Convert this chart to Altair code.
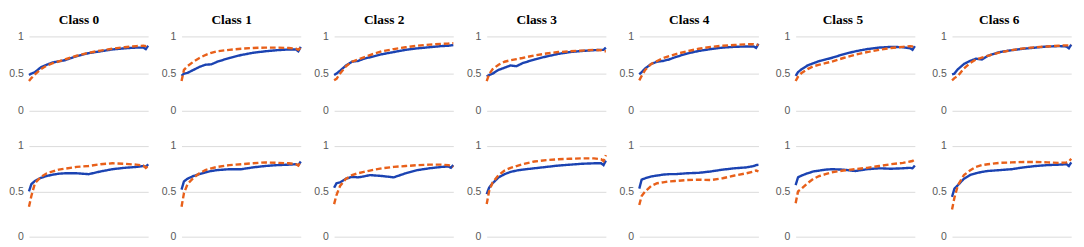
import altair as alt
import pandas as pd

X = [0, 2, 5, 10, 15, 20, 25, 30, 40, 50, 60, 70, 80, 90, 96, 98, 100]
CLASSES = ["Class 0", "Class 1", "Class 2", "Class 3", "Class 4", "Class 5", "Class 6"]

TOP_BLUE = [
    [.48, .50, .52, .585, .62, .65, .665, .68, .735, .775, .80, .825, .84, .85, .85, .83, .875],
    [.47, .50, .51, .55, .59, .62, .625, .66, .71, .75, .78, .80, .815, .825, .825, .80, .86],
    [.48, .50, .54, .61, .66, .67, .70, .72, .76, .79, .82, .84, .855, .87, .875, .88, .885],
    [.46, .48, .50, .55, .58, .61, .60, .64, .69, .73, .765, .79, .805, .815, .82, .82, .85],
    [.49, .52, .57, .63, .66, .67, .69, .72, .77, .805, .83, .85, .86, .865, .865, .845, .90],
    [.47, .52, .56, .61, .64, .67, .69, .71, .76, .80, .83, .85, .86, .855, .84, .82, .87],
    [.49, .50, .56, .63, .67, .70, .69, .74, .79, .815, .835, .85, .865, .87, .865, .84, .89],
]
TOP_ORANGE = [
    [.40, .44, .49, .56, .61, .64, .665, .69, .74, .78, .81, .835, .855, .87, .875, .87, .89],
    [.40, .55, .60, .66, .71, .75, .78, .80, .82, .835, .845, .85, .85, .845, .835, .82, .85],
    [.41, .43, .50, .60, .66, .69, .72, .75, .80, .83, .855, .875, .89, .90, .905, .91, .91],
    [.40, .49, .56, .62, .66, .68, .695, .71, .745, .77, .79, .80, .81, .82, .815, .80, .80],
    [.41, .47, .55, .63, .67, .71, .735, .76, .80, .835, .86, .875, .885, .895, .895, .89, .885],
    [.40, .46, .51, .56, .60, .62, .64, .66, .71, .755, .79, .82, .845, .86, .87, .865, .88],
    [.41, .44, .47, .57, .64, .69, .715, .74, .785, .815, .84, .855, .865, .875, .88, .88, .89],
]
BOTTOM_BLUE = [
    [.50, .58, .615, .65, .67, .685, .695, .70, .70, .69, .72, .745, .76, .77, .78, .77, .80],
    [.52, .61, .64, .67, .69, .71, .725, .735, .745, .745, .765, .78, .79, .795, .80, .79, .83],
    [.54, .59, .60, .64, .66, .655, .665, .68, .67, .655, .70, .735, .755, .77, .775, .76, .79],
    [.47, .54, .59, .655, .69, .715, .73, .74, .755, .77, .785, .795, .805, .81, .81, .79, .84],
    [.53, .63, .645, .665, .675, .685, .69, .69, .70, .705, .72, .74, .755, .765, .78, .79, .795],
    [.57, .655, .675, .70, .72, .73, .74, .745, .74, .725, .745, .755, .75, .755, .76, .755, .785],
    [.44, .53, .57, .64, .68, .70, .715, .725, .735, .745, .765, .78, .79, .795, .80, .78, .82],
]
BOTTOM_ORANGE = [
    [.33, .45, .59, .66, .70, .72, .74, .75, .77, .78, .80, .81, .805, .795, .785, .76, .78],
    [.33, .48, .58, .65, .70, .735, .755, .77, .79, .80, .81, .82, .815, .81, .80, .785, .83],
    [.36, .46, .56, .64, .68, .70, .715, .73, .755, .77, .78, .79, .795, .795, .79, .78, .77],
    [.36, .50, .60, .68, .73, .76, .78, .80, .83, .845, .855, .86, .865, .865, .855, .835, .90],
    [.35, .45, .50, .56, .59, .60, .61, .615, .625, .63, .625, .645, .675, .70, .72, .73, .72],
    [.37, .50, .53, .59, .64, .67, .69, .71, .73, .745, .76, .78, .80, .815, .83, .835, .85],
    [.30, .43, .57, .68, .73, .77, .79, .80, .815, .82, .825, .825, .82, .815, .82, .83, .86],
]

BLUE = "#1b43b2"
ORANGE = "#e8601a"
EXTENTS = [20, 20, 20, 20, 20, 26, 26]


def panel(i, blue, orange, top):
    df = pd.DataFrame({
        "x": X + X,
        "y": blue + orange,
        "s": ["a"] * len(X) + ["b"] * len(X),
    })
    ext = EXTENTS[i]
    ch = alt.Chart(df).mark_line(strokeWidth=2.5).encode(
        x=alt.X("x:Q", axis=None, scale=alt.Scale(domain=[0, 100], nice=False, zero=False)),
        y=alt.Y("y:Q", scale=alt.Scale(domain=[0, 1], nice=False),
                axis=alt.Axis(values=[0, 0.5, 1], format="~g", domain=False, ticks=False,
                              grid=True, gridColor="#D9D9D9", gridWidth=1,
                              labelColor="#595959", labelFontSize=11, labelFont="Liberation Sans",
                              labelPadding=6, minExtent=ext, maxExtent=ext, title=None)),
        color=alt.Color("s:N", scale=alt.Scale(domain=["a", "b"], range=[BLUE, ORANGE]), legend=None),
        strokeDash=alt.StrokeDash("s:N", scale=alt.Scale(domain=["a", "b"], range=[[1, 0], [6, 3]]), legend=None),
        order=alt.Order("x:Q"),
    )
    if top:
        ch = ch.properties(width=125, height=78,
                           title=alt.TitleParams(CLASSES[i], font="Liberation Serif", fontSize=14,
                                                 fontWeight="bold", color="#000000", offset=4,
                                                 dx=-ext / 2, frame="group", anchor="middle"))
    else:
        ch = ch.properties(width=125, height=95)
    return ch


top_row = alt.hconcat(*[panel(i, TOP_BLUE[i], TOP_ORANGE[i], True) for i in range(7)], spacing=8)
bottom_row = alt.hconcat(*[panel(i, BOTTOM_BLUE[i], BOTTOM_ORANGE[i], False) for i in range(7)], spacing=8)

chart = alt.vconcat(top_row, bottom_row, spacing=26).properties(
    padding=0, background="white"
).configure_view(stroke=None)

chart.save("out.html", embed_options={"renderer": "svg", "actions": False})
